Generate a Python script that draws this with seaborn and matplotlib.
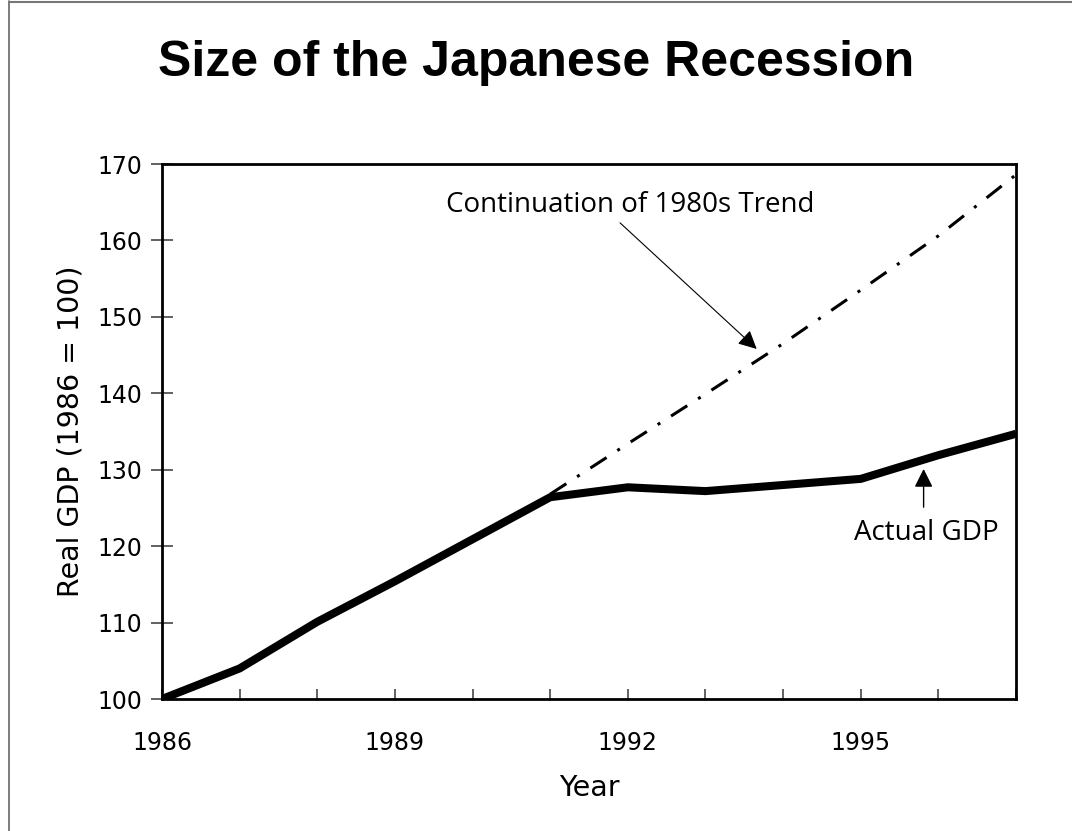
import matplotlib
matplotlib.use("Agg")
import matplotlib.pyplot as plt
import seaborn as sns
import pandas as pd
from matplotlib.lines import Line2D

# Real GDP index, 1986 = 100
years = list(range(1986, 1998))
actual_gdp = [100.0, 104.0, 110.1, 115.4, 120.9, 126.4, 127.7, 127.2, 128.0, 128.8, 131.9, 134.7]

# Path GDP would have followed had the 1980s growth rate continued
trend_years = list(range(1991, 1998))
trend_gdp = [126.8, 133.4, 139.9, 146.5, 153.5, 160.6, 168.6]

labeled_years = [1986, 1989, 1992, 1995]
y_ticks = [100, 110, 120, 130, 140, 150, 160, 170]

actual_df = pd.DataFrame({"Year": years, "GDP": actual_gdp})
trend_df = pd.DataFrame({"Year": trend_years, "GDP": trend_gdp})

sns.set_theme(style="white")
plt.rcParams["font.family"] = ["DejaVu Sans"]

W, H = 1072, 831
fig = plt.figure(figsize=(W / 100, H / 100), dpi=100)
fig.patch.set_facecolor("white")

# axes box in pixel terms
left, right, top, bottom = 162, 1016, 164, 699
ax = fig.add_axes([left / W, 1 - bottom / H, (right - left) / W, (bottom - top) / H])

sns.lineplot(data=trend_df, x="Year", y="GDP", ax=ax, color="black", lw=2.2,
             linestyle=(0, (6.3, 4.2, 1.0, 4.2)), dash_capstyle="butt")
sns.lineplot(data=actual_df, x="Year", y="GDP", ax=ax, color="black", lw=5.8,
             solid_joinstyle="miter", solid_capstyle="butt")

ax.set_xlim(1986, 1997)
ax.set_ylim(100, 170)
ax.set_xticks(years)
ax.set_xticklabels([str(y) if y in labeled_years else "" for y in years])
ax.set_yticks(y_ticks)
ax.set_yticklabels([str(v) for v in y_ticks])

ax.tick_params(axis="x", direction="in", length=7, width=1.3, color="#555555",
               labelsize=17, pad=23, bottom=True)
ax.tick_params(axis="y", direction="inout", length=16, width=1.3, color="#555555",
               labelsize=17, pad=6, left=True)
for lab in ax.get_xticklabels() + ax.get_yticklabels():
    lab.set_color("black")

for s in ax.spines.values():
    s.set_visible(True)
    s.set_color("black")
    s.set_linewidth(2.0)

ax.set_xlabel("Year", fontsize=20.5, labelpad=14, color="black")
ax.set_ylabel("Real GDP (1986 = 100)", fontsize=20.5, labelpad=9, color="black")
ax.grid(False)

# annotations
ann_font = ["Open Sans", "DejaVu Sans"]
ax.text(1992.03, 164.6, "Continuation of 1980s Trend", fontsize=20, family=ann_font,
        ha="center", va="center", color="black")
ax.annotate("", xy=(1993.66, 145.8), xytext=(1991.9, 162.3),
            arrowprops=dict(arrowstyle="-|>", lw=0.8, color="black",
                            mutation_scale=28, shrinkA=0, shrinkB=0))
ax.text(1995.85, 121.7, "Actual GDP", fontsize=20, family=ann_font,
        ha="center", va="center", color="black")
ax.annotate("", xy=(1995.81, 130.1), xytext=(1995.81, 125.1),
            arrowprops=dict(arrowstyle="-|>", lw=1.0, color="black",
                            mutation_scale=28, shrinkA=0, shrinkB=0))

fig.text(0.5, 1 - 63 / H, "Size of the Japanese Recession", fontsize=36,
         fontweight="bold", family=["Liberation Sans", "DejaVu Sans"],
         ha="center", va="center", color="black")

# page frame along the left and top edges
fig.add_artist(Line2D([9 / W, 9 / W], [0, 1 - 1 / H], transform=fig.transFigure,
                      color="#666666", lw=1.2))
fig.add_artist(Line2D([9 / W, 1], [1 - 1.5 / H, 1 - 1.5 / H], transform=fig.transFigure,
                      color="#777777", lw=1.5))

fig.savefig("out.png", dpi=100, facecolor="white")
